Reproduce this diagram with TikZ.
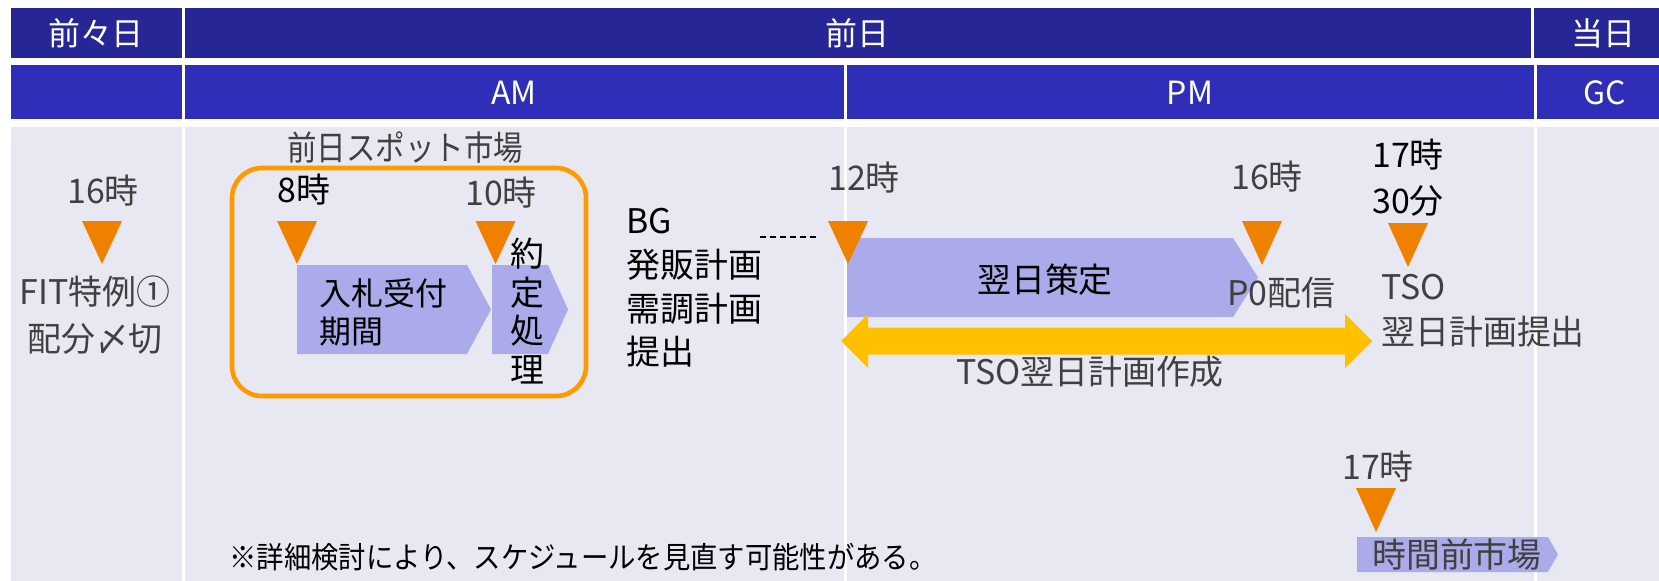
\documentclass[tikz,border=0pt]{standalone}
\usepackage{fontspec}
\setmainfont{Noto Sans CJK JP}
\definecolor{hdrA}{RGB}{38,38,150}
\definecolor{hdrB}{RGB}{46,46,184}
\definecolor{bodybg}{RGB}{232,232,242}
\definecolor{triorange}{RGB}{240,128,0}
\definecolor{boxorange}{RGB}{255,153,0}
\definecolor{chevfill}{RGB}{171,171,235}
\definecolor{arrowyellow}{RGB}{255,192,0}
\definecolor{txtgray}{RGB}{64,64,64}
\tikzset{
  hdrtext/.style={text=white, font=\fontsize{18.2}{20}\selectfont, inner sep=0pt},
  graytext/.style={text=txtgray, font=\fontsize{19.3}{24}\selectfont, inner sep=0pt},
  blacktext/.style={text=black, font=\fontsize{19.3}{24}\selectfont, inner sep=0pt},
  trifill/.style={fill=triorange},
  chevron/.style={fill=chevfill},
}
\newcommand\mytri[3]{\fill[trifill] ({#1-20},#2) -- ({#1+20},#2) -- (#1,#3) -- cycle;}
\newcommand\mychev[5]{\fill[chevron] (#1,#2) -- (#4,#2) -- (#5,{(#2+#3)/2}) -- (#4,#3) -- (#1,#3) -- cycle;}
\begin{document}
\begin{tikzpicture}[x=0.02cm,y=-0.02cm]
\useasboundingbox (0,0) rectangle (1659,581);
\fill[white] (0,0) rectangle (1659,581);
% header row 1
\fill[hdrA] (10.6,8.5) rectangle (182,58.5);
\fill[hdrA] (185,8.5) rectangle (1531,58.5);
\fill[hdrA] (1534,8.5) rectangle (1659,58.5);
% header row 2
\fill[hdrB] (10.6,65.5) rectangle (182,118.5);
\fill[hdrB] (185,65.5) rectangle (844,118.5);
\fill[hdrB] (847,65.5) rectangle (1534,118.5);
\fill[hdrB] (1537,65.5) rectangle (1659,118.5);
% body
\fill[bodybg] (10.6,127) rectangle (182,581);
\fill[bodybg] (185,127) rectangle (844,581);
\fill[bodybg] (847,127) rectangle (1534,581);
\fill[bodybg] (1537,127) rectangle (1659,581);
% header texts
\node[hdrtext] (zenzen) at (96,33.5) {前々日};
\node[hdrtext] (zenjitsu) at (857,33.5) {前日};
\node[hdrtext] (tojitsu) at (1603,33.5) {当日};
\node[hdrtext] (am) at (514,93) {AM};
\node[hdrtext] (pm) at (1190,93) {PM};
\node[hdrtext] (gc) at (1605,93) {GC};
% orange box
\draw[boxorange, line width=2.6pt, rounded corners=0.6cm] (232,168) rectangle (586,396);
% chevrons
\mychev{297}{265}{354}{467}{491}
\mychev{492}{265}{354}{548}{568}
\mychev{847}{238}{317}{1233}{1258}
\mychev{1357}{537}{572}{1548}{1558}
% yellow double arrow
\fill[arrowyellow] (841,341) -- (868,314) -- (868,327.5) -- (1345,327.5) -- (1345,314) -- (1372,341)
  -- (1345,368) -- (1345,354.5) -- (868,354.5) -- (868,368) -- cycle;
% triangles
\mytri{102}{221}{264}
\mytri{297}{221}{264}
\mytri{495.5}{221}{264}
\mytri{848}{221}{264}
\mytri{1262}{221}{265}
\mytri{1408}{223}{267}
\mytri{1376}{488}{532}
% dashed connector
\coordinate (dashA) at (760,237);
\coordinate (dashB) at (820,237);
\draw[black, line width=0.6pt, dash pattern=on 3.4pt off 2.3pt] (dashA) -- (dashB);
% body texts
\node[graytext] (t16a) at (103,191) {16時};
\node[graytext, align=center, font=\fontsize{19.3}{26.5}\selectfont] (fit) at (95,315) {FIT特例①\\配分〆切};
\node[graytext] (spot) at (405,148) {\scalebox{0.87}[1]{前日スポット市場}};
\node[blacktext] (t8) at (304,190) {8時};
\node[graytext] (t10) at (501,193) {10時};
\node[blacktext, anchor=west, align=left, font=\fontsize{18.2}{21.6}\selectfont] (nyusatsu) at (319,312) {入札受付\\期間};
\node[blacktext, align=center, font=\fontsize{19.3}{22}\selectfont] (yakujo) at (527,311) {約\\定\\処\\理};
\node[blacktext, anchor=west, align=left, font=\fontsize{19.3}{24.8}\selectfont] (bg) at (626,288) {BG\\発販計画\\需調計画\\提出};
\node[graytext] (t12) at (864,178) {12時};
\node[blacktext] (yokujitsu) at (1045,280) {翌日策定};
\node[graytext] (t16b) at (1267,177) {16時};
\node[graytext, anchor=west] (p0) at (1227,293) {P0配信};
\node[blacktext, align=center, font=\fontsize{19.3}{26.2}\selectfont] (t1730) at (1408,178) {17時\\30分};
\node[graytext, anchor=west, align=left, font=\fontsize{19.3}{25.6}\selectfont] (tso) at (1381,311) {TSO\\翌日計画提出};
\node[graytext] (tsosakusei) at (1090,372) {TSO翌日計画作成};
\node[graytext] (t17) at (1378,467) {17時};
\node[graytext] (jikanmae) at (1457,555) {時間前市場};
\node[blacktext, anchor=west, font=\fontsize{17}{20}\selectfont] (note) at (229,557) {\scalebox{0.915}[1]{※詳細検討により、スケジュールを見直す可能性がある。}};
\end{tikzpicture}
\end{document}
